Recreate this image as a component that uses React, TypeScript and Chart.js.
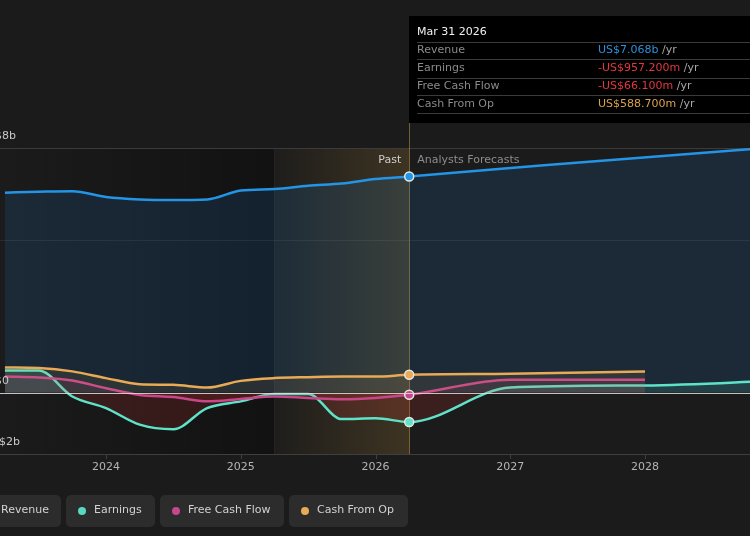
import React, { useEffect, useRef } from "react";
import { Chart, registerables } from "chart.js";

Chart.register(...registerables);

// ---- data (values in US$ billions, x in fractional years) ----
const pastDates = [2023.25, 2023.5, 2023.75, 2024.0, 2024.25, 2024.5, 2024.75, 2025.0, 2025.25, 2025.5, 2025.75, 2026.0, 2026.25];
const revenuePast = [6.54, 6.57, 6.59, 6.4, 6.32, 6.3, 6.32, 6.61, 6.66, 6.77, 6.84, 6.99, 7.068];
const earningsPast = [0.73, 0.73, -0.12, -0.5, -1.04, -1.19, -0.5, -0.28, -0.04, -0.04, -0.86, -0.83, -0.957];
const fcfPast = [0.53, 0.5, 0.4, 0.15, -0.07, -0.14, -0.28, -0.2, -0.12, -0.17, -0.21, -0.17, -0.066];
const cfoPast = [0.83, 0.81, 0.7, 0.48, 0.28, 0.26, 0.17, 0.39, 0.48, 0.51, 0.53, 0.53, 0.589];

const revenueForecastDates = [2027.25, 2028.25, 2029.25];
const revenueForecast = [7.44, 7.78, 8.12];
const earningsForecastDates = [2027.0, 2028.0, 2029.0];
const earningsForecast = [0.17, 0.24, 0.4];
const fcfForecastDates = [2027.0, 2028.0];
const fcfForecast = [0.425, 0.43];
const cfoForecastDates = [2027.0, 2028.0];
const cfoForecast = [0.62, 0.7];

const xTicks = [2024, 2025, 2026, 2027, 2028];
const yLabels = [
  { v: 8, text: "US$8b" },
  { v: 0, text: "US$0" },
  { v: -2, text: "-US$2b" },
];
const presentX = 2026.25;
const forecastStartX = 2025.25;

const tooltipTitle = "Mar 31 2026";
const tooltipRows = [
  { label: "Revenue", value: "US$7.068b", color: "#2f8fd8" },
  { label: "Earnings", value: "-US$957.200m", color: "#e0393e" },
  { label: "Free Cash Flow", value: "-US$66.100m", color: "#e0393e" },
  { label: "Cash From Op", value: "US$588.700m", color: "#dba14c" },
];
const legendItems = [
  { label: "Revenue", color: "#2196f3", left: -27, right: 61 },
  { label: "Earnings", color: "#58d8c0", left: 66, right: 155 },
  { label: "Free Cash Flow", color: "#c8468a", left: 160, right: 284 },
  { label: "Cash From Op", color: "#e8aa55", left: 289, right: 408 },
];

const FONT = "DejaVu Sans";

function series(dates: number[], vals: number[], fDates: number[], fVals: number[]) {
  const pts = dates.map((x, i) => ({ x, y: vals[i] }));
  return pts.concat(fDates.map((x, i) => ({ x, y: fVals[i] })));
}

const pointR = (ctx: any) => (ctx.raw && ctx.raw.x === presentX ? 4.5 : 0);

export default function App() {
  const ref = useRef<HTMLCanvasElement | null>(null);

  useEffect(() => {
    document.body.style.margin = "0";
    document.body.style.background = "#1b1b1b";
    const canvas = ref.current!;

    const decor = {
      id: "decor",
      beforeDraw(chart: any) {
        const c = chart.ctx;
        c.save();
        c.fillStyle = "#1b1b1b";
        c.fillRect(0, 0, chart.width, chart.height);
        c.restore();
      },
      beforeDatasetsDraw(chart: any) {
        const c = chart.ctx;
        const xs = chart.scales.x;
        const ys = chart.scales.y;
        const a = chart.chartArea;
        const xF = xs.getPixelForValue(forecastStartX);
        const xP = xs.getPixelForValue(presentX);
        c.save();
        // darker past region
        let g = c.createLinearGradient(a.left, 0, xF, 0);
        g.addColorStop(0, "rgba(0,0,0,0.0)");
        g.addColorStop(1, "rgba(0,0,0,0.35)");
        c.fillStyle = g;
        c.fillRect(a.left, a.top, xF - a.left, a.bottom - a.top);
        // highlighted recent past
        g = c.createLinearGradient(xF, 0, xP, 0);
        g.addColorStop(0, "rgba(200,150,60,0.02)");
        g.addColorStop(1, "rgba(200,150,60,0.2)");
        c.fillStyle = g;
        c.fillRect(xF, a.top, xP - xF, a.bottom - a.top);
        c.fillStyle = "rgba(255,255,255,0.05)";
        c.fillRect(Math.round(xF), a.top, 1, a.bottom - a.top);
        // grid
        c.fillStyle = "#3b3b3b";
        c.fillRect(0, Math.round(ys.getPixelForValue(8)), chart.width, 1);
        c.fillStyle = "rgba(255,255,255,0.07)";
        c.fillRect(0, Math.round(ys.getPixelForValue(5)), chart.width, 1);
        c.fillStyle = "#3f3f3f";
        c.fillRect(0, Math.round(a.bottom), chart.width, 1);
        xTicks.forEach((t) => {
          const px = Math.round(xs.getPixelForValue(t));
          c.fillRect(px, a.bottom, 1, 5);
        });
        // present line
        c.fillStyle = "rgba(190,150,80,0.55)";
        c.fillRect(Math.round(xP), 122, 1, a.bottom - 122);
        c.restore();
      },
      afterDatasetsDraw(chart: any) {
        const c = chart.ctx;
        const ys = chart.scales.y;
        c.save();
        c.fillStyle = "rgba(225,225,225,0.85)";
        c.fillRect(0, Math.round(ys.getPixelForValue(0)), chart.width, 1);
        c.restore();
      },
      afterDraw(chart: any) {
        const c = chart.ctx;
        const xs = chart.scales.x;
        const ys = chart.scales.y;
        const a = chart.chartArea;
        const xP = xs.getPixelForValue(presentX);
        c.save();
        c.font = `11px "${FONT}"`;
        c.textBaseline = "middle";
        // y labels
        c.fillStyle = "#c8c8c8";
        c.textAlign = "left";
        yLabels.forEach((l) => {
          c.fillText(l.text, -20, ys.getPixelForValue(l.v) - 12);
        });
        // x labels
        c.textAlign = "center";
        c.fillStyle = "#b4b4b4";
        xTicks.forEach((t) => c.fillText(String(t), xs.getPixelForValue(t), a.bottom + 13));
        // Past / forecasts
        c.textAlign = "right";
        c.fillStyle = "#cfcfcf";
        c.fillText("Past", xP - 8, 160);
        c.textAlign = "left";
        c.fillStyle = "#8c8c8c";
        c.fillText("Analysts Forecasts", xP + 8, 160);

        // tooltip
        const tx = Math.round(xP);
        c.fillStyle = "#000000";
        c.fillRect(tx, 16, chart.width - tx, 107);
        c.fillStyle = "#f2f2f2";
        c.fillText(tooltipTitle, tx + 8, 32);
        const lineYs = [42, 59, 78, 95, 113];
        c.fillStyle = "#3a3a3a";
        lineYs.forEach((y) => c.fillRect(tx + 8, y, chart.width - tx - 8, 1));
        const rowYs = [50.5, 68, 86.5, 104];
        tooltipRows.forEach((r, i) => {
          c.fillStyle = "#8a8a8a";
          c.fillText(r.label, tx + 8, rowYs[i]);
          c.fillStyle = r.color;
          c.fillText(r.value, 598, rowYs[i]);
          const w = c.measureText(r.value + " ").width;
          c.fillStyle = "#a8a8a8";
          c.fillText("/yr", 598 + w, rowYs[i]);
        });

        // legend
        legendItems.forEach((it) => {
          c.fillStyle = "#2c2c2c";
          c.beginPath();
          (c as any).roundRect(it.left, 495, it.right - it.left, 32, 5);
          c.fill();
          c.fillStyle = it.color;
          c.beginPath();
          c.arc(it.left + 16, 511, 4, 0, Math.PI * 2);
          c.fill();
          c.fillStyle = "#d2d2d2";
          c.fillText(it.label, it.left + 28, 510.5);
        });
        c.restore();
      },
    };

    const common = {
      cubicInterpolationMode: "monotone" as const,
      borderWidth: 2.5,
      pointRadius: pointR,
      pointHoverRadius: 0,
      pointBorderColor: "#e6e6e6",
      pointBorderWidth: 1.5,
    };

    const chart = new Chart(canvas, {
      type: "line",
      data: {
        datasets: [
          {
            ...common,
            label: "Cash From Op",
            data: series(pastDates, cfoPast, cfoForecastDates, cfoForecast),
            borderColor: "#e8aa55",
            pointBackgroundColor: "#e8aa55",
            fill: { target: "origin", above: "rgba(232,170,85,0.1)", below: "rgba(229,57,53,0.12)" },
          },
          {
            ...common,
            label: "Free Cash Flow",
            data: series(pastDates, fcfPast, fcfForecastDates, fcfForecast),
            borderColor: "#c8468a",
            pointBackgroundColor: "#c8468a",
            fill: { target: "origin", above: "rgba(200,70,138,0.1)", below: "rgba(229,57,53,0.12)" },
          },
          {
            ...common,
            label: "Earnings",
            data: series(pastDates, earningsPast, earningsForecastDates, earningsForecast),
            borderColor: "#5fe3c8",
            pointBackgroundColor: "#5fe3c8",
            fill: { target: "origin", above: "rgba(95,227,200,0.12)", below: "rgba(229,57,53,0.16)" },
          },
          {
            ...common,
            label: "Revenue",
            data: series(pastDates, revenuePast, revenueForecastDates, revenueForecast),
            borderColor: "#2394e6",
            pointBackgroundColor: "#2394e6",
            fill: { target: "origin", above: "rgba(33,150,243,0.13)" },
          },
        ],
      },
      options: {
        responsive: false,
        maintainAspectRatio: false,
        animation: false,
        events: [],
        layout: { padding: { top: 148, bottom: 82, left: 0, right: 0 } },
        plugins: { legend: { display: false }, tooltip: { enabled: false } },
        scales: {
          x: { type: "linear", min: 2023.2134, max: 2028.779, display: false },
          y: { type: "linear", min: -2, max: 8, display: false },
        },
      },
      plugins: [decor],
    });
    return () => chart.destroy();
  }, []);

  return <canvas ref={ref} width={750} height={536} style={{ display: "block" }} />;
}
